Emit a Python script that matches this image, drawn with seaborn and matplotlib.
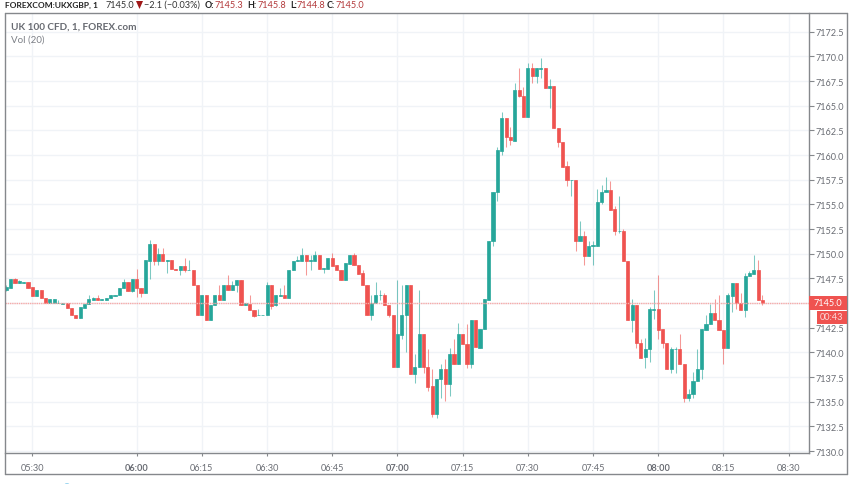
"""
plot.py
UK 100 CFD 1-minute candlestick chart, TradingView style.
"""

import matplotlib

matplotlib.use("Agg")
import matplotlib.pyplot as plt
import numpy as np
import pandas as pd
import seaborn as sns
from matplotlib.lines import Line2D
from matplotlib.patches import Circle, Polygon, Rectangle

# ---------------------------------------------------------------------------
# data, one candle per minute bar
# ---------------------------------------------------------------------------
opens = [
    7146.3, 7146.5, 7147.4, 7147.0, 7147.0, 7147.1, 7146.6, 7145.7, 7146.3, 7145.5,
    7145.0, 7145.0, 7145.0, 7144.95, 7145.0, 7144.5, 7143.8, 7143.5, 7144.5, 7144.9,
    7145.3, 7145.5, 7145.3, 7145.3, 7145.5, 7145.7, 7145.8, 7146.5, 7147.1, 7146.2,
    7147.4, 7146.55, 7146.0, 7149.3, 7151.0, 7149.3, 7150.0, 7149.3, 7149.4, 7148.5,
    7148.3, 7148.8, 7148.3, 7148.3, 7146.8, 7143.8, 7145.8, 7143.3, 7144.8, 7145.8,
    7145.3, 7146.8, 7146.3, 7146.8, 7147.35, 7144.8, 7144.95, 7144.3, 7143.75, 7143.75,
    7143.8, 7146.85, 7144.8, 7145.7, 7145.8, 7145.5, 7148.3, 7149.3, 7149.3, 7149.85,
    7149.3, 7149.3, 7149.85, 7148.5, 7148.5, 7149.55, 7148.85, 7148.3, 7147.3, 7149.0,
    7149.85, 7148.85, 7148.0, 7146.8, 7143.8, 7145.0, 7145.8, 7145.8, 7144.85, 7143.8,
    7138.5, 7141.8, 7143.8, 7146.8, 7137.85, 7138.5, 7141.85, 7138.5, 7136.55, 7133.8,
    7137.3, 7138.3, 7136.8, 7139.85, 7138.8, 7141.85, 7140.85, 7138.8, 7143.3, 7140.45,
    7142.35, 7145.35, 7151.25, 7156.3, 7160.45, 7163.8, 7161.8, 7161.45, 7166.55, 7166.0,
    7163.9, 7168.8, 7168.0, 7168.75, 7168.8, 7166.8, 7167.0, 7162.75, 7161.3, 7158.85,
    7157.45, 7157.5, 7151.3, 7151.8, 7149.8, 7150.8, 7150.8, 7155.25, 7156.3, 7156.5,
    7154.5, 7152.3, 7152.35, 7149.3, 7143.3, 7144.85, 7141.0, 7139.5, 7140.35, 7144.3,
    7144.35, 7142.35, 7141.0, 7138.3, 7140.3, 7140.35, 7138.8, 7135.35, 7135.75, 7137.05,
    7138.3, 7142.3, 7142.85, 7144.0, 7143.3, 7142.3, 7140.45, 7145.75, 7147.05, 7145.0,
    7144.3, 7147.75, 7147.95, 7148.3, 7145.3,
]
highs = [
    7146.8, 7147.4, 7147.5, 7147.3, 7147.1, 7147.1, 7146.6, 7146.3, 7146.3, 7145.5,
    7145.4, 7145.4, 7145.3, 7145.0, 7145.0, 7144.5, 7143.8, 7144.6, 7144.9, 7145.8,
    7145.6, 7145.8, 7145.4, 7145.5, 7145.8, 7145.8, 7146.55, 7147.4, 7147.1, 7147.4,
    7148.5, 7146.55, 7149.4, 7151.35, 7151.0, 7150.55, 7150.55, 7149.4, 7149.4, 7148.5,
    7148.8, 7149.55, 7149.35, 7148.3, 7146.8, 7145.8, 7145.8, 7144.8, 7145.8, 7146.8,
    7146.8, 7147.85, 7147.25, 7147.35, 7147.35, 7145.0, 7145.8, 7144.3, 7144.4, 7143.8,
    7147.1, 7146.85, 7145.8, 7146.5, 7146.8, 7148.35, 7149.3, 7149.8, 7150.6, 7149.85,
    7149.85, 7150.3, 7149.85, 7148.55, 7149.55, 7150.05, 7148.85, 7148.3, 7149.05, 7149.85,
    7150.05, 7148.85, 7148.3, 7146.8, 7145.8, 7147.1, 7146.3, 7146.0, 7144.85, 7143.8,
    7147.35, 7146.8, 7146.8, 7146.8, 7139.85, 7146.3, 7141.85, 7140.35, 7138.3, 7137.35,
    7138.8, 7139.3, 7140.4, 7141.35, 7142.95, 7141.85, 7142.9, 7143.3, 7143.3, 7142.35,
    7145.4, 7151.3, 7156.3, 7160.8, 7164.4, 7163.8, 7162.8, 7167.3, 7168.8, 7166.85,
    7169.3, 7169.3, 7168.8, 7169.8, 7168.8, 7167.75, 7167.0, 7162.75, 7161.3, 7159.35,
    7157.5, 7157.5, 7153.3, 7152.35, 7151.3, 7151.3, 7156.55, 7157.0, 7157.8, 7157.35,
    7154.85, 7155.8, 7152.5, 7149.3, 7145.4, 7144.85, 7141.35, 7141.5, 7144.55, 7146.35,
    7147.85, 7142.35, 7141.0, 7140.5, 7140.5, 7141.85, 7138.8, 7136.3, 7138.05, 7140.35,
    7142.35, 7143.8, 7144.9, 7145.45, 7145.8, 7142.3, 7146.0, 7147.05, 7147.05, 7146.0,
    7148.05, 7148.2, 7149.85, 7149.35, 7145.8,
]
lows = [
    7146.2, 7146.5, 7147.0, 7147.0, 7147.0, 7146.5, 7145.7, 7145.7, 7145.5, 7145.0,
    7145.0, 7145.0, 7145.0, 7144.9, 7144.5, 7143.8, 7143.5, 7143.5, 7144.5, 7144.9,
    7145.3, 7145.3, 7145.3, 7145.3, 7145.5, 7145.7, 7145.8, 7146.5, 7146.2, 7146.1,
    7145.6, 7145.6, 7146.0, 7147.4, 7148.85, 7148.85, 7149.3, 7148.0, 7148.45, 7148.3,
    7147.85, 7148.1, 7148.3, 7146.8, 7143.8, 7143.8, 7143.3, 7143.3, 7144.8, 7145.3,
    7145.3, 7146.3, 7146.3, 7146.1, 7144.8, 7144.8, 7144.3, 7143.55, 7143.75, 7143.75,
    7143.8, 7144.4, 7144.7, 7145.7, 7145.5, 7145.5, 7148.3, 7149.3, 7149.3, 7147.85,
    7148.35, 7149.3, 7148.5, 7148.05, 7148.5, 7148.8, 7148.3, 7147.3, 7147.3, 7149.0,
    7148.85, 7147.95, 7146.8, 7143.8, 7143.3, 7145.0, 7145.3, 7144.8, 7143.55, 7138.5,
    7138.5, 7141.4, 7140.05, 7137.85, 7136.9, 7138.5, 7137.9, 7136.05, 7133.4, 7133.3,
    7135.35, 7135.1, 7135.55, 7138.8, 7138.8, 7140.8, 7138.4, 7138.4, 7140.5, 7140.45,
    7142.35, 7145.35, 7150.8, 7155.3, 7160.0, 7160.85, 7161.0, 7161.45, 7165.85, 7163.9,
    7163.9, 7167.35, 7167.35, 7167.85, 7166.8, 7164.75, 7162.75, 7160.8, 7158.75, 7156.9,
    7155.8, 7150.3, 7151.3, 7148.85, 7149.8, 7148.85, 7150.8, 7155.05, 7156.3, 7154.45,
    7151.9, 7152.1, 7149.3, 7143.3, 7142.1, 7140.4, 7139.45, 7138.4, 7139.05, 7143.4,
    7141.35, 7140.4, 7138.3, 7137.9, 7137.9, 7138.8, 7134.95, 7135.1, 7135.4, 7137.05,
    7137.35, 7142.3, 7142.85, 7143.3, 7142.3, 7138.8, 7140.45, 7144.05, 7144.4, 7144.3,
    7143.55, 7147.75, 7147.95, 7145.35, 7144.8,
]
closes = [
    7146.6, 7147.4, 7147.0, 7147.2, 7147.1, 7146.5, 7145.7, 7146.3, 7145.5, 7145.0,
    7145.4, 7145.4, 7145.05, 7145.0, 7144.5, 7143.8, 7143.5, 7144.6, 7144.9, 7145.4,
    7145.5, 7145.3, 7145.4, 7145.5, 7145.8, 7145.8, 7146.55, 7147.1, 7146.2, 7147.4,
    7146.5, 7146.0, 7149.4, 7151.0, 7149.3, 7150.0, 7149.3, 7149.4, 7148.45, 7148.3,
    7148.8, 7148.3, 7148.35, 7146.8, 7143.8, 7145.8, 7143.3, 7144.8, 7145.8, 7145.3,
    7146.8, 7146.3, 7146.8, 7147.35, 7144.8, 7145.0, 7144.3, 7143.7, 7143.8, 7143.8,
    7146.85, 7144.7, 7145.8, 7145.8, 7145.5, 7148.35, 7149.3, 7149.35, 7149.85, 7149.3,
    7149.35, 7149.85, 7148.5, 7148.55, 7149.55, 7148.8, 7148.3, 7147.3, 7149.05, 7149.85,
    7148.85, 7147.95, 7146.8, 7143.8, 7145.0, 7145.8, 7145.85, 7144.8, 7143.8, 7138.5,
    7141.85, 7143.8, 7146.8, 7137.85, 7138.5, 7141.85, 7138.5, 7136.5, 7133.8, 7137.35,
    7138.3, 7136.8, 7139.85, 7138.8, 7141.85, 7140.8, 7138.8, 7143.3, 7140.5, 7142.35,
    7145.4, 7151.3, 7156.3, 7160.5, 7163.8, 7161.8, 7161.5, 7166.55, 7165.95, 7163.9,
    7168.8, 7168.0, 7168.8, 7168.8, 7166.8, 7167.0, 7162.75, 7161.3, 7158.75, 7157.45,
    7157.5, 7151.3, 7151.8, 7149.8, 7150.8, 7150.85, 7155.25, 7156.3, 7156.5, 7154.45,
    7152.35, 7152.35, 7149.3, 7143.3, 7144.85, 7141.0, 7139.45, 7140.35, 7144.35, 7144.4,
    7142.3, 7141.0, 7138.3, 7140.35, 7140.35, 7138.8, 7135.35, 7135.8, 7137.05, 7138.3,
    7142.35, 7142.85, 7144.0, 7143.3, 7142.3, 7140.45, 7145.8, 7147.05, 7145.0, 7144.3,
    7147.75, 7148.05, 7148.3, 7145.35, 7145.0,
]

tick_bars = [6, 30, 45, 60, 75, 90, 105, 120, 135, 150, 165, 180]
tick_labels = ["05:30", "06:00", "06:15", "06:30", "06:45", "07:00",
               "07:15", "07:30", "07:45", "08:00", "08:15", "08:30"]
bold_labels = ["06:00", "07:00", "08:00"]
price_ticks = [7130 + 2.5 * k for k in range(18)]
last_price = 7145.0

GREEN = "#26a69a"
RED = "#ef5350"
GRID = "#f0f3f7"
BORDER = "#85888c"
W, H = 852, 485


def fx(px):
    return px / W


def fy(py):
    return 1 - py / H


def label(x, y, text, **kw):
    kw.setdefault("va", "center")
    kw.setdefault("fontsize", 7.0)
    fig.text(fx(x), fy(y), text, **kw)


sns.set_theme(style="white")
plt.rcParams["font.family"] = ["Lato", "DejaVu Sans"]

df = pd.DataFrame({"open": opens, "high": highs, "low": lows, "close": closes})
df["bar"] = np.arange(len(df))
df["up"] = df["close"] >= df["open"]
df["body_low"] = df[["open", "close"]].min(axis=1)
df["body"] = (df["close"] - df["open"]).abs()

fig = plt.figure(figsize=(W / 100, H / 100), dpi=100, facecolor="white")
ax = fig.add_axes([fx(4.5), fy(454), fx(809 - 4.5), (454 - 14) / H])

# grid
ax.set_axisbelow(True)
ax.grid(True, color=GRID, lw=1.0)

# wicks
for up, color in [(True, GREEN), (False, RED)]:
    part = df[df["up"] == up]
    ax.vlines(part["bar"], part["low"], part["high"], color=color, lw=0.75, alpha=0.6, zorder=2)

# bodies
for up, color in [(True, GREEN), (False, RED)]:
    part = df[df["up"] == up]
    sns.barplot(
        data=part, x="bar", y="body", bottom=part["body_low"],
        native_scale=True, color=color, saturation=1, width=0.72,
        errorbar=None, linewidth=0.5, edgecolor=color, zorder=3, ax=ax,
    )

ax.axhline(last_price, color="#f7aaa8", lw=1.0, ls=(0, (1, 0.6)), zorder=4)

# axes
ax.set_xlim(-0.42, 184.7)
ax.set_ylim(7129.8, 7174.4)
ax.set_xlabel("")
ax.set_ylabel("")
ax.set_xticks(tick_bars)
ax.set_xticklabels(tick_labels)
ax.set_yticks(price_ticks)
# the box below carries the 7145.0 label
ax.set_yticklabels(["" if p == last_price else f"{p:.1f}" for p in price_ticks])
ax.yaxis.tick_right()
ax.tick_params(axis="y", length=3.5, width=0.8, color=BORDER, labelcolor="#6a6d74",
               labelsize=6.6, pad=1.5, right=True, left=False)
ax.tick_params(axis="x", length=2, width=0.8, color=BORDER, labelcolor="#6a6d74",
               labelsize=6.6, pad=5, bottom=True)
for t in ax.get_xticklabels():
    if t.get_text() in bold_labels:
        t.set_fontweight("bold")
for name, spine in ax.spines.items():
    spine.set_visible(name in ("bottom", "right"))
    spine.set_color(BORDER)
    spine.set_linewidth(1.0)

# outer frame of the chart widget
frame = [((4.5, 14), (847, 14)), ((847, 14), (847, 475)),
         ((847, 475), (4.5, 475)), ((4.5, 475), (4.5, 14))]
for (x0, y0), (x1, y1) in frame:
    fig.add_artist(Line2D([fx(x0), fx(x1)], [fy(y0), fy(y1)], color=BORDER, lw=1.0))

# last price and countdown boxes
fig.add_artist(Rectangle((fx(809), fy(311)), fx(38), 14 / H, color=RED, lw=0, zorder=5))
fig.add_artist(Rectangle((fx(817), fy(324.5)), fx(30), 13 / H, color=RED, lw=0, zorder=5))
fig.text(fx(828), fy(304), "7145.0", color="white", fontsize=6.6, ha="center", va="center", zorder=6)
fig.text(fx(832), fy(318), "00:43", color="#fbdada", fontsize=6.6, ha="center", va="center", zorder=6)

# header line
label(5, 5, "FOREXCOM:UKXGBP, 1", fontweight="bold", color="#222222", fontsize=6.0)
label(105, 5, "7145.0", color="#333333", fontsize=6.6)
fig.add_artist(Polygon([(fx(136), fy(2)), (fx(143), fy(2)), (fx(139.5), fy(10))], color="#a01818", lw=0))
label(144.5, 5, "\u22122.1 (\u22120.03%)", color="#333333", fontsize=6.6)
for x_key, key, x_val, val in [(205, "O:", 215, "7145.3"), (247, "H:", 257, "7145.8"),
                               (290.5, "L:", 296.5, "7144.8"), (327, "C:", 336, "7145.0")]:
    label(x_key, 5, key, fontweight="bold", color="#222222", fontsize=6.4)
    label(x_val, 5, val, color="#b3393b", fontsize=6.6)

# legend texts in the pane
label(11, 27, "UK 100 CFD, 1, FOREX.com", fontweight="bold", color="#686b72", fontsize=7.2)
label(11, 40, "Vol (20)", color="#7d8087", fontsize=7.0)

# cut off blue dot at the bottom of the screenshot
fig.add_artist(Circle((fx(67), fy(486.5)), 3.5 / W, color="#2fa8e0", lw=0))

fig.savefig("out.png", dpi=100)
